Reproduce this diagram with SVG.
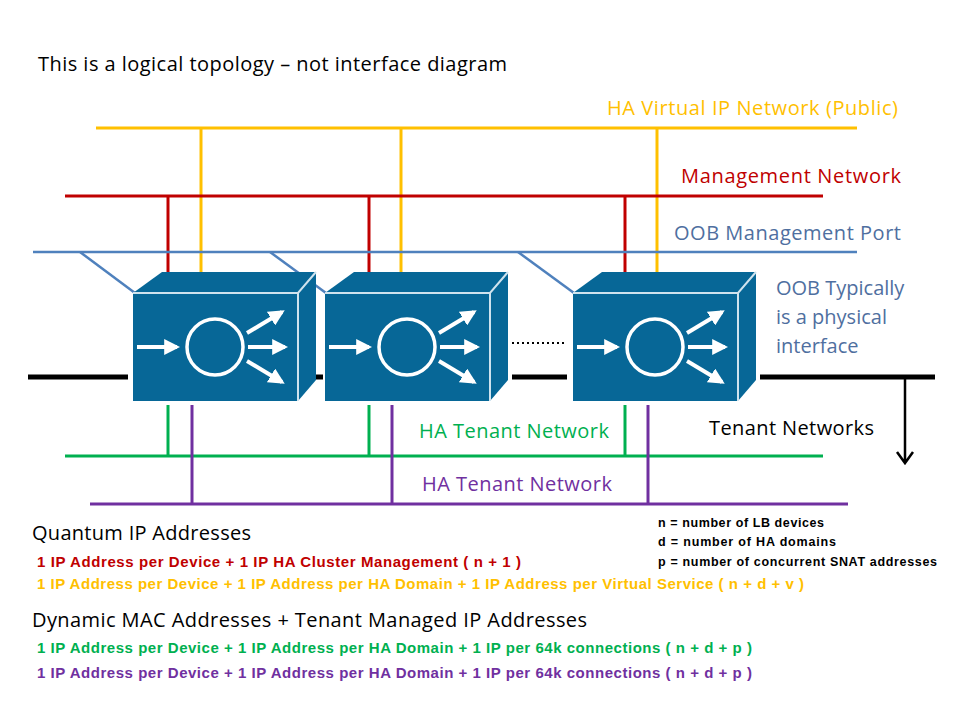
<svg xmlns="http://www.w3.org/2000/svg" width="960" height="720" viewBox="0 0 960 720">
<defs>
<marker id="ah" viewBox="0 0 10 10" refX="8" refY="5" markerWidth="4" markerHeight="4" orient="auto"><path d="M0,0 L10,5 L0,10 z" fill="#fff"/></marker>
<g id="dev">
<path d="M0,21 L29,0 L183,0 L183,108 L165,129 L0,129 Z" fill="#076797"/>
<path d="M0,21 L165,21 L183,0 M165,21 L165,129" fill="none" stroke="#cfe3ee" stroke-width="2"/>
<circle cx="82" cy="75" r="28" fill="none" stroke="#fff" stroke-width="3.5"/>
<g stroke="#fff" stroke-width="4" marker-end="url(#ah)">
<line x1="4" y1="75" x2="44" y2="75"/>
<line x1="115" y1="75" x2="152" y2="75"/>
<line x1="114" y1="61" x2="149" y2="40"/>
<line x1="114" y1="89" x2="149" y2="110"/>
</g>
</g>
</defs>
<style>
text{font-family:"Open Sans","Liberation Sans",sans-serif;}
.h{font-size:20px}
.b{font-size:15px;font-weight:bold;font-family:"Liberation Sans",sans-serif}
.s{font-size:12.5px;font-weight:bold;font-family:"Liberation Sans",sans-serif}
</style>
<rect width="960" height="720" fill="#fff"/>
<g id="connectors" fill="none" stroke-width="3">
<g stroke="#FFC000"><line x1="96" y1="128" x2="857" y2="128"/><line x1="201" y1="128" x2="201" y2="272"/><line x1="401" y1="128" x2="401" y2="272"/><line x1="657" y1="128" x2="657" y2="272"/></g>
<g stroke="#C00000"><line x1="65" y1="196" x2="823" y2="196"/><line x1="168" y1="196" x2="168" y2="272"/><line x1="369" y1="196" x2="369" y2="272"/><line x1="625" y1="196" x2="625" y2="272"/></g>
<g stroke="#4F81BD" stroke-width="2.5"><line x1="33" y1="252" x2="857" y2="252"/><line x1="80" y1="252" x2="135" y2="293"/><line x1="270" y1="252" x2="326" y2="293"/><line x1="518" y1="252" x2="574" y2="293"/></g>
<g stroke="#000" stroke-width="5"><line x1="28" y1="377" x2="128" y2="377"/><line x1="300" y1="377" x2="323" y2="377"/><line x1="512" y1="377" x2="567" y2="377"/><line x1="760" y1="377" x2="935" y2="377"/></g>
<line x1="512" y1="343" x2="565" y2="343" stroke="#000" stroke-width="2" stroke-dasharray="2,3"/>
<path d="M905,377 V462 M897,452 L905,463 L913,452" stroke="#000" stroke-width="2.5"/>
<g stroke="#00B050"><line x1="65" y1="456" x2="823" y2="456"/><line x1="168" y1="405" x2="168" y2="456"/><line x1="369" y1="405" x2="369" y2="456"/><line x1="625" y1="405" x2="625" y2="456"/></g>
<g stroke="#7030A0"><line x1="90" y1="504" x2="848" y2="504"/><line x1="192" y1="405" x2="192" y2="504"/><line x1="392" y1="405" x2="392" y2="504"/><line x1="648" y1="405" x2="648" y2="504"/></g>
</g>
<g id="dev1"><use href="#dev" x="133" y="272"/></g>
<g id="dev2"><use href="#dev" x="325" y="272"/></g>
<g id="dev3"><use href="#dev" x="573" y="272"/></g>
<g id="labels">
<text class="h" x="38" y="71" textLength="469">This is a logical topology – not interface diagram</text>
<text class="h" x="607" y="115" fill="#FFC000" textLength="291">HA Virtual IP Network (Public)</text>
<text class="h" x="681" y="183" fill="#C00000" textLength="220">Management Network</text>
<text class="h" x="674" y="240" fill="#4F6FA0" textLength="227">OOB Management Port</text>
<text class="h" x="776" y="295" fill="#4F6FA0">OOB Typically</text>
<text class="h" x="776" y="324" fill="#4F6FA0">is a physical</text>
<text class="h" x="776" y="353" fill="#4F6FA0">interface</text>
<text class="h" x="709" y="435" textLength="165">Tenant Networks</text>
<text class="h" x="419" y="438" fill="#00B050" textLength="190">HA Tenant Network</text>
<text class="h" x="422" y="491" fill="#7030A0" textLength="190">HA Tenant Network</text>
<text class="h" x="32" y="540" textLength="219">Quantum IP Addresses</text>
<text class="b" x="37" y="567" fill="#C00000" textLength="484">1 IP Address per Device + 1 IP HA Cluster Management  ( n + 1 )</text>
<text class="b" x="37" y="589" fill="#FFC000" textLength="767">1 IP Address per Device + 1 IP Address per HA Domain + 1 IP Address per Virtual Service  ( n + d + v )</text>
<text class="h" x="32" y="627" textLength="555">Dynamic MAC Addresses + Tenant Managed IP Addresses</text>
<text class="b" x="37" y="653" fill="#00B050" textLength="715">1 IP Address per Device + 1 IP Address per HA Domain + 1 IP  per 64k connections ( n + d + p )</text>
<text class="b" x="37" y="678" fill="#7030A0" textLength="715">1 IP Address per Device + 1 IP Address per HA Domain + 1 IP  per 64k connections ( n + d + p )</text>
<text class="s" x="658" y="527" textLength="166">n = number of LB devices</text>
<text class="s" x="658" y="546" textLength="178">d = number of HA domains</text>
<text class="s" x="658" y="566" textLength="279">p = number of concurrent SNAT addresses</text>
</g>
</svg>
